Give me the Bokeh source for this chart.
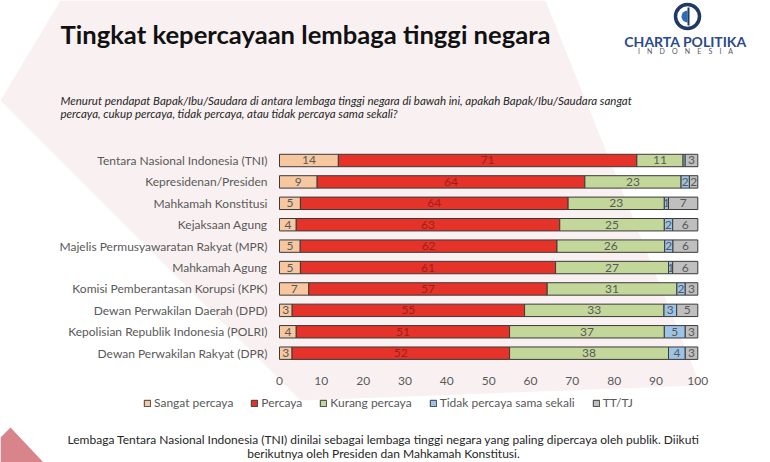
import numpy as np
from bokeh.plotting import figure
from bokeh.models import Range1d, ColumnDataSource, Legend, LegendItem
from bokeh.core.properties import value
from bokeh.embed import file_html
from bokeh.resources import INLINE

# ---------------- data ----------------
institutions = [
    "Tentara Nasional Indonesia (TNI)",
    "Kepresidenan/Presiden",
    "Mahkamah Konstitusi",
    "Kejaksaan Agung",
    "Majelis Permusyawaratan Rakyat (MPR)",
    "Mahkamah Agung",
    "Komisi Pemberantasan Korupsi (KPK)",
    "Dewan Perwakilan Daerah (DPD)",
    "Kepolisian Republik Indonesia (POLRI)",
    "Dewan Perwakilan Rakyat (DPR)",
]
sangat_percaya = [14, 9, 5, 4, 5, 5, 7, 3, 4, 3]
percaya = [71, 64, 64, 63, 62, 61, 57, 55, 51, 52]
kurang_percaya = [11, 23, 23, 25, 26, 27, 31, 33, 37, 38]
tidak_percaya_sama_sekali = [0.5, 2, 1, 2, 2, 1, 2, 3, 5, 4]
tt_tj = [3, 2, 7, 6, 6, 6, 3, 5, 3, 3]
series_names = ["Sangat percaya", "Percaya", "Kurang percaya",
                "Tidak percaya sama sekali", "TT/TJ"]
x_ticks = [0, 10, 20, 30, 40, 50, 60, 70, 80, 90, 100]

title_text = "Tingkat kepercayaan lembaga tinggi negara"
question_lines = [
    "Menurut pendapat Bapak/Ibu/Saudara di antara lembaga tinggi negara di bawah ini, apakah Bapak/Ibu/Saudara sangat",
    "percaya, cukup percaya, tidak percaya, atau tidak percaya sama sekali?",
]
caption_lines = [
    "Lembaga Tentara Nasional Indonesia (TNI) dinilai sebagai lembaga tinggi negara yang paling dipercaya oleh publik. Diikuti",
    "berikutnya oleh Presiden dan Mahkamah Konstitusi.",
]
logo_name = "CHARTA POLITIKA"
logo_sub = "INDONESIA"

# ---------------- style ----------------
colors = ["#F7C7A0", "#E5332A", "#C4D79B", "#9DC3E6", "#BFBFBF"]
label_colors = ["#595959", "#9E1F18", "#595959", "#595959", "#595959"]
FONT = "Lato"
GREY = "#595959"

# 100% stacked bars (each row normalised to its total)
vals = np.array([sangat_percaya, percaya, kurang_percaya,
                 tidak_percaya_sama_sekali, tt_tj], dtype=float)
totals = vals.sum(axis=0)
norm = vals / totals * 100.0
rights = np.cumsum(norm, axis=0)
lefts = rights - norm
ypos = np.arange(len(institutions))

W, H = 770, 462
p = figure(width=W, height=H,
           x_range=Range1d(-66.70, 117.38),
           y_range=Range1d(14.106, -7.473),
           x_axis_type=None, y_axis_type=None,
           min_border=0, toolbar_location=None, output_backend="svg")
p.extra_x_ranges = {"px": Range1d(0, W)}
p.extra_y_ranges = {"px": Range1d(H, 0)}
p.grid.visible = False
p.outline_line_color = None
p.background_fill_color = "white"
p.border_fill_color = "white"

# ---------------- background decoration ----------------
p.patch(x=[60, 545, 700, 300, 0], y=[0, 0, 385, 400, 100],
        x_range_name="px", y_range_name="px",
        fill_color="#F7ECEC", fill_alpha=0.75, line_color=None)
p.patch(x=[0, 10, 43, 0], y=[437, 427, 462, 462],
        x_range_name="px", y_range_name="px",
        fill_color="#D9838A", line_color=None)

# ---------------- header ----------------
p.text(x=[60], y=[33], text=[title_text], x_range_name="px", y_range_name="px",
       text_font=value(FONT), text_font_style="bold", text_font_size="25.6px",
       text_color="#111111", text_align="left", text_baseline="alphabetic")
p.text(x=[60, 60], y=[100, 113], text=question_lines,
       x_range_name="px", y_range_name="px",
       text_font=value(FONT), text_font_style="italic", text_font_size="11.5px",
       text_color="#262626", text_align="left", text_baseline="alphabetic")

# logo
p.scatter(x=[687], y=[16], size=24, marker="circle", fill_color=None,
          line_color="#1F3864", line_width=3.5,
          x_range_name="px", y_range_name="px")
p.wedge(x=[687], y=[16], radius=6, start_angle=np.pi / 2, end_angle=3 * np.pi / 2,
        fill_color="#2E6DB4", line_color=None,
        x_range_name="px", y_range_name="px")
p.segment(x0=[688], y0=[7], x1=[688], y1=[25], line_color="#1F3864", line_width=2,
          x_range_name="px", y_range_name="px")
p.text(x=[685], y=[41], text=[logo_name], x_range_name="px", y_range_name="px",
       text_font=value(FONT), text_font_style="bold", text_font_size="14px",
       text_color="#2A4A8A", text_align="center", text_baseline="alphabetic")
p.text(x=[685], y=[50], text=["\u00a0\u00a0\u00a0\u00a0".join(logo_sub)],
       x_range_name="px", y_range_name="px",
       text_font=value(FONT), text_font_size="7px",
       text_color="#555555", text_align="center", text_baseline="alphabetic")

# ---------------- bars ----------------
renderers = []
for k, name in enumerate(series_names):
    src = ColumnDataSource(dict(y=ypos, left=lefts[k], right=rights[k],
                                mid=(lefts[k] + rights[k]) / 2,
                                lab=[("%d" % round(v)) if v >= 1 else "" for v in vals[k]]))
    r = p.hbar(y="y", left="left", right="right", height=0.58, source=src,
               fill_color=colors[k], line_color="#3A3A3A", line_width=1)
    renderers.append(r)
    p.text(x="mid", y="y", text="lab", source=src,
           text_font=value(FONT), text_font_size="12px", text_color=label_colors[k],
           text_align="center", text_baseline="middle")

# category labels
p.text(x=[267] * len(institutions), y=ypos, text=institutions,
       x_range_name="px",
       text_font=value(FONT), text_font_size="12px", text_color=GREY,
       text_align="right", text_baseline="middle")

# x tick labels
p.text(x=x_ticks, y=[380] * len(x_ticks), text=[str(t) for t in x_ticks],
       y_range_name="px",
       text_font=value(FONT), text_font_size="12px", text_color=GREY,
       text_align="center", text_baseline="middle")

# legend (screen units relative to the frame's bottom-left)
legend = Legend(items=[LegendItem(label=n, renderers=[r]) for n, r in zip(series_names, renderers)],
                orientation="horizontal", location=(143, 52),
                glyph_width=8, glyph_height=8, label_standoff=3, spacing=17,
                padding=0, margin=0, border_line_color=None,
                background_fill_alpha=0,
                label_text_font=FONT, label_text_font_size="12px",
                label_text_color=GREY, label_height=12)
p.add_layout(legend)

# caption
p.text(x=[383, 383], y=[439, 453], text=caption_lines,
       x_range_name="px", y_range_name="px",
       text_font=value(FONT), text_font_size="12px", text_color="#262626",
       text_align="center", text_baseline="alphabetic")

open("out.html", "w").write(file_html(p, INLINE))
